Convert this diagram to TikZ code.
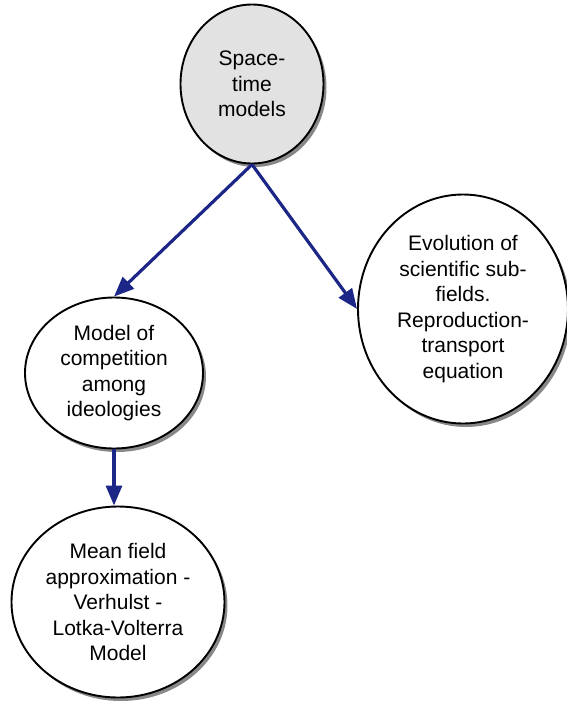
\documentclass[tikz,border=0pt]{standalone}
\usepackage{fontspec}
\setmainfont{Liberation Sans}
\usetikzlibrary{shapes.geometric,arrows.meta,shadows}
\definecolor{arrowblue}{RGB}{28,38,135}
\definecolor{topgray}{RGB}{226,226,226}
\tikzset{
  bubble/.style={ellipse, draw=black, line width=1.9pt, fill=white, inner sep=0pt,
    align=center, font=\fontsize{21}{25.5}\selectfont,
    drop shadow={shadow xshift=3pt, shadow yshift=-3.5pt, fill=black!55, opacity=0.85}},
  link/.style={draw=arrowblue, line width=3.2pt, -{Triangle[length=20pt,width=16pt]}}
}
\begin{document}
\begin{tikzpicture}[x=1pt,y=-1pt]
\useasboundingbox (0,0) rectangle (567,705);
\node[bubble, fill=topgray, minimum width=143pt, minimum height=159pt] (top) at (252,84) {Space-\\time\\models};
\node[bubble, minimum width=210pt, minimum height=229pt] (right) at (463,309) {Evolution of\\scientific sub-\\fields.\\Reproduction-\\transport\\equation};
\node[bubble, minimum width=178pt, minimum height=151pt] (mid) at (114,373) {Model of\\competition\\among\\ideologies};
\node[bubble, minimum width=213pt, minimum height=191pt] (bot) at (118,602) {Mean field\\approximation -\\Verhulst -\\Lotka-Volterra\\Model};
\draw[link] (top.south) -- (mid.north);
\draw[link] (top.south) -- (right.west);
\draw[link] (mid.south) -- (mid.south |- bot.north);
\end{tikzpicture}
\end{document}
